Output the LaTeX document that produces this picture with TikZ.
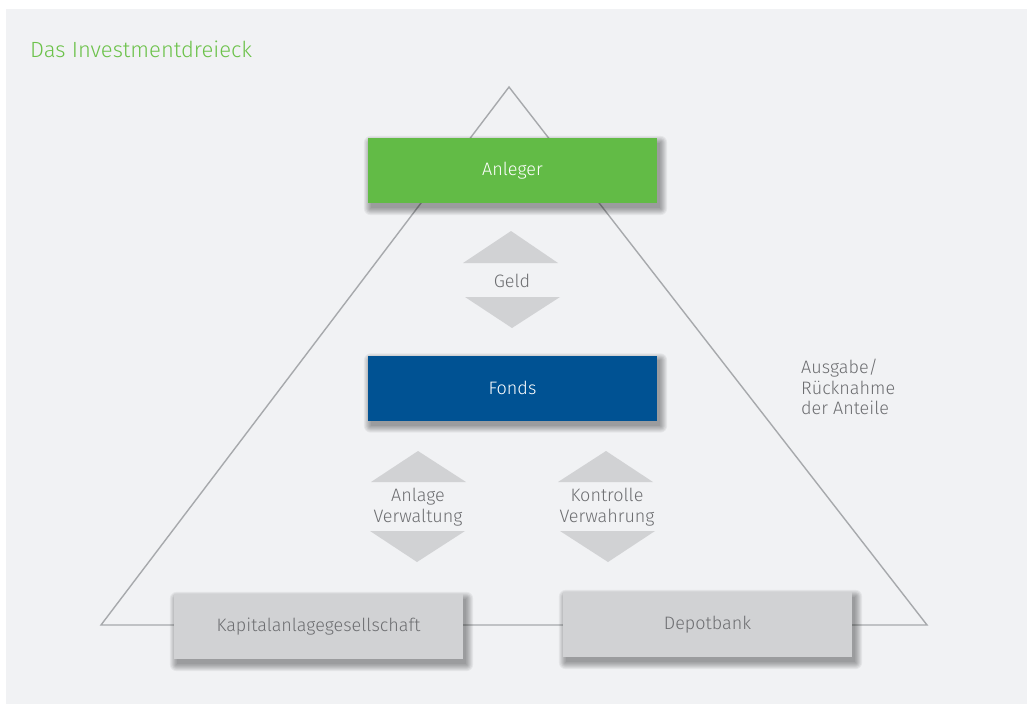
\documentclass[tikz,border=0pt]{standalone}
\usepackage{fontspec}
\setmainfont{Fira Sans}[UprightFont=* Light]
\usetikzlibrary{backgrounds,calc}
\pgfdeclarelayer{shadowlayer}
\pgfsetlayers{background,shadowlayer,main}
\definecolor{bggray}{HTML}{F1F2F4}
\definecolor{linegray}{HTML}{A7A9AC}
\definecolor{boxgray}{HTML}{D1D2D4}
\definecolor{txtgray}{HTML}{6D6E71}
\definecolor{anlgreen}{HTML}{62BB46}
\definecolor{titlegreen}{HTML}{6CC24A}
\definecolor{fondsblue}{HTML}{005293}
\tikzset{
  box/.style={minimum width=289pt, minimum height=65pt, inner sep=0pt,
    font=\fontsize{18}{21}\selectfont},
  greenbox/.style={box, fill=anlgreen, text=white},
  bluebox/.style={box, fill=fondsblue, text=white},
  graybox/.style={box, fill=boxgray, text=txtgray},
  tri/.style={draw=linegray, line width=1.4pt, line join=miter},
  arrowfill/.style={fill=boxgray},
  lbl/.style={text=txtgray, font=\fontsize{18}{20.5}\selectfont, align=center, inner sep=0pt},
  shadowlayerfill/.style={fill=black, opacity=0.05, rounded corners=#1}
}
\newcommand{\softshadow}[1]{%
  \begin{pgfonlayer}{shadowlayer}
  \foreach \e in {7,6,5,4,3,2,1,0}{
    \fill[shadowlayerfill=\e pt] ($(#1.north west)+(3-\e,5-\e)$) rectangle ($(#1.south east)+(3+\e,5+\e)$);
  }
  \end{pgfonlayer}}
\begin{document}
\begin{tikzpicture}[x=1pt,y=-1pt]
\useasboundingbox (0,0) rectangle (1027,704);
\begin{pgfonlayer}{background}
\fill[white] (0,0) rectangle (1027,704);
\fill[bggray] (6,9) rectangle (1027,704);
\coordinate (apex) at (509,87);
\coordinate (bl) at (101,625);
\coordinate (br) at (927,625);
\draw[tri] (apex) -- (bl) -- (br) -- cycle;
\end{pgfonlayer}
\node[anchor=base west, text=titlegreen, font=\fontsize{22}{26}\selectfont, inner sep=0pt] (title) at (30,57) {Das Investmentdreieck};
% boxes
\node[greenbox] (anleger) at (512.5,170.5) {Anleger};
\node[bluebox] (fonds) at (512.5,388) {Fonds};
\node[graybox] (kag) at (318.5,626.5) {Kapitalanlagegesellschaft};
\node[graybox] (depot) at (707.5,624.5) {Depotbank};
\softshadow{anleger}
\softshadow{fonds}
\softshadow{kag}
\softshadow{depot}
% Geld
\node[lbl] (geld) at (512,281) {Geld};
\fill[arrowfill] (511,231) -- (558,263) -- (463,263) -- cycle;
\fill[arrowfill] (465,297) -- (560,297) -- (512,328) -- cycle;
% Anlage Verwaltung
\node[lbl] (anlage) at (418,507) {Anlage\\Verwaltung};
\fill[arrowfill] (418,451) -- (466,482) -- (371,482) -- cycle;
\fill[arrowfill] (370,531) -- (465,531) -- (417,562) -- cycle;
% Kontrolle Verwahrung
\node[lbl] (kontrolle) at (607,507) {Kontrolle\\Verwahrung};
\fill[arrowfill] (606,451) -- (653,482) -- (558,482) -- cycle;
\fill[arrowfill] (560,531) -- (655,531) -- (608,562) -- cycle;
% Ausgabe
\node[lbl, align=left, anchor=north west] (ausgabe) at (801,359) {Ausgabe/\\Rücknahme\\der Anteile};
\end{tikzpicture}
\end{document}
